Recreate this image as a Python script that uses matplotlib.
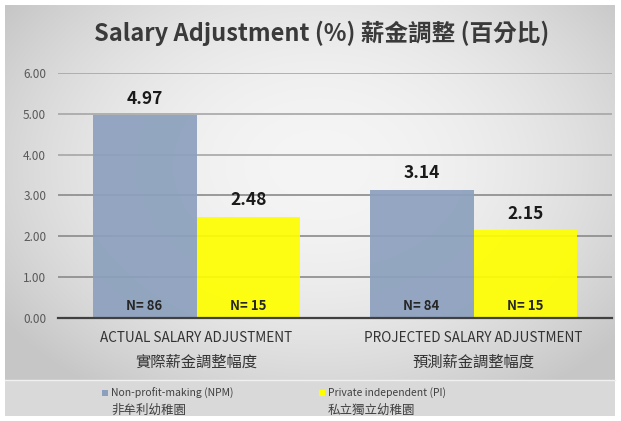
import numpy as np
import matplotlib
matplotlib.use("Agg")
import matplotlib.pyplot as plt
from matplotlib.patches import Rectangle

plt.rcParams['font.family'] = ['Noto Sans CJK TC', 'DejaVu Sans']

cat_en = ["ACTUAL SALARY ADJUSTMENT", "PROJECTED SALARY ADJUSTMENT"]
cat_zh = ["實際薪金調整幅度", "預測薪金調整幅度"]
npm_values = [4.97, 3.14]
pi_values = [2.48, 2.15]
npm_n = [86, 84]
pi_n = [15, 15]
series_en = ["Non-profit-making (NPM)", "Private independent (PI)"]
series_zh = ["非牟利幼稚園", "私立獨立幼稚園"]
yticks = [0, 1, 2, 3, 4, 5, 6]

W, H = 621, 421
fig = plt.figure(figsize=(W / 100, H / 100), dpi=100)
fig.patch.set_facecolor("white")

# background panel with a soft radial gradient
bg = fig.add_axes([0, 0, 1, 1], zorder=-10)
bg.set_xlim(0, W)
bg.set_ylim(H, 0)
bg.axis("off")
yy, xx = np.mgrid[0:H, 0:W]
r = np.sqrt(((xx - 320) / 330.0) ** 2 + ((yy - 180) / 260.0) ** 2)
shade = np.clip(0.96 - 0.13 * r ** 2, 0.78, 0.96)
img = np.dstack([shade, shade, shade])
bg.imshow(img, extent=(5, 615, 380, 5), aspect="auto", zorder=0)
bg.add_patch(Rectangle((5, 380), 610, 36, facecolor="#d9d9d9", edgecolor="none", zorder=1))
bg.plot([5, 615], [380, 380], color="#f0f0f0", lw=1, zorder=2)

fig.text(322 / W, 1 - 33 / H, "Salary Adjustment (%) 薪金調整 (百分比)",
         ha="center", va="center", fontsize=17, fontweight="bold", color="#3a3a3a")

ax = fig.add_axes([58 / W, 1 - 318 / H, (612 - 58) / W, (318 - 73) / H])
ax.set_facecolor("none")
x = np.arange(len(cat_en))
w = 0.375
ax.bar(x - w / 2, npm_values, w, color="#8ca0bd", alpha=0.92, zorder=2)
ax.bar(x + w / 2, pi_values, w, color="#ffff00", alpha=0.92, zorder=2)

for i in range(len(cat_en)):
    ax.text(x[i] - w / 2, npm_values[i] + 0.18, f"{npm_values[i]:.2f}", ha="center", va="bottom",
            fontsize=12.5, fontweight="bold", color="#1a1a1a")
    ax.text(x[i] + w / 2, pi_values[i] + 0.18, f"{pi_values[i]:.2f}", ha="center", va="bottom",
            fontsize=12.5, fontweight="bold", color="#1a1a1a")
    ax.text(x[i] - w / 2, 0.12, f"N= {npm_n[i]}", ha="center", va="bottom",
            fontsize=9.5, fontweight="bold", color="#262626")
    ax.text(x[i] + w / 2, 0.12, f"N= {pi_n[i]}", ha="center", va="bottom",
            fontsize=9.5, fontweight="bold", color="#262626")
    ax.text(x[i], -0.5, cat_en[i], ha="center", va="center", fontsize=9.8, color="#333333")
    ax.text(x[i], -1.08, cat_zh[i], ha="center", va="center", fontsize=11, color="#333333")

ax.set_xlim(-0.5, 1.5)
ax.set_ylim(0, 6)
ax.set_yticks(yticks)
ax.set_yticklabels([f"{v:.2f}" for v in yticks], fontsize=8.5, color="#595959")
ax.tick_params(axis="y", length=0, pad=8.5)
ax.set_xticks([])
for v in yticks[1:]:
    ax.axhline(v, color="#a6a6a6" if v > 3 else "#8a8a8a", lw=1.2, zorder=1)
for s in ["top", "right", "left"]:
    ax.spines[s].set_visible(False)
ax.spines["bottom"].set_color("#404040")
ax.spines["bottom"].set_linewidth(1.6)

# legend
colors = ["#8ca0bd", "#ffff00"]
lx = [105, 322]
for c, px, en, zh in zip(colors, lx, series_en, series_zh):
    bg.add_patch(Rectangle((px - 3, 390), 6, 6, facecolor=c, edgecolor="none", zorder=3))
    bg.text(px + 6, 393, en, fontsize=7.5, color="#404040", va="center", ha="left", zorder=3)
    bg.text(px + 6, 410, zh, fontsize=9, color="#404040", va="center", ha="left", zorder=3)

fig.savefig("out.png", dpi=100)
